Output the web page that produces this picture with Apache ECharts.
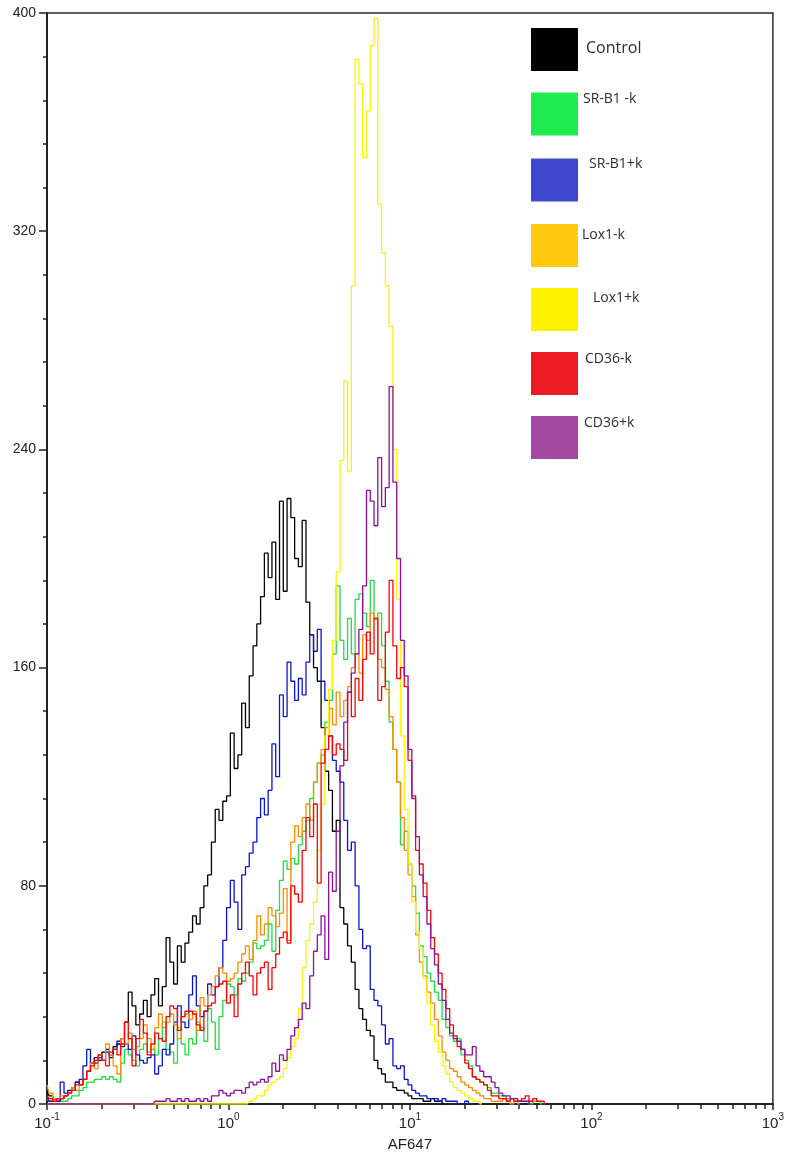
<!DOCTYPE html>
<html>
<head>
<meta charset="utf-8">
<script src="https://cdn.jsdelivr.net/npm/echarts@6/dist/echarts.min.js"></script>
<style>
  html, body { margin: 0; padding: 0; background: #ffffff; }
  #chart { width: 787px; height: 1157px; }
</style>
</head>
<body>
<div id="chart"></div>
<script>
// Sample names, in legend order
const seriesNames = ['Control', 'SR-B1 -k', 'SR-B1+k', 'Lox1-k', 'Lox1+k', 'CD36-k', 'CD36+k'];

// Histogram channels: 48 channels per decade, channel 0 sits at AF647 = 0.1
const channelsPerDecade = 48;
const firstChannelValue = 0.1;

// Event counts per channel
const control = [
  5,3,2,1,2,3,5,6,8,7,
  9,12,15,17,16,19,20,17,21,22,
  24,30,41,36,29,33,38,32,40,46,
  36,43,61,52,44,58,52,59,63,69,
  66,72,80,84,96,108,104,111,113,136,
  123,128,147,138,157,168,176,186,202,193,
  206,185,221,188,222,215,200,197,214,184,
  172,160,155,138,122,115,100,104,72,66,
  58,52,42,35,31,27,25,16,13,11,
  8,8,6,5,5,4,3,2,2,2,
  1,1,2,1,1,0
];
const srb1Minus = [
  2,1,1,1,1,1,2,3,3,5,
  6,8,8,9,9,10,9,10,9,8,
  15,20,18,16,14,20,22,19,20,18,
  24,30,20,19,15,28,22,18,24,22,
  30,28,23,35,30,20,32,38,44,43,
  40,46,45,48,52,59,57,58,60,66,
  56,71,82,89,86,90,88,95,100,104,
  112,118,125,128,140,148,165,190,170,163,
  178,165,185,187,180,175,192,178,180,168,
  155,140,130,118,95,100,88,80,70,58,
  54,48,45,41,38,31,28,25,23,24,
  18,16,14,10,9,8,7,6,4,4,
  3,3,2,2,1,1,1,1,0,1,
  1,0
];
const srb1Plus = [
  3,1,2,1,8,4,4,5,8,9,
  14,20,15,15,17,16,19,18,20,23,
  21,22,20,25,18,16,15,17,18,11,
  14,20,18,22,30,36,30,28,40,47,
  36,32,34,44,40,43,50,60,72,82,
  74,64,84,87,92,96,105,112,106,115,
  132,120,150,142,162,155,148,156,150,162,
  172,166,174,155,148,135,126,122,118,104,
  93,96,80,64,57,58,42,38,36,29,
  22,24,14,13,14,9,7,5,4,3,
  3,2,2,2,1,2,1,1,1,0,
  0,1,0
];
const lox1Minus = [
  7,4,2,2,3,3,4,6,5,7,
  9,12,15,13,18,16,22,18,14,11,
  24,22,26,20,21,24,29,24,20,28,
  33,28,30,33,29,24,32,33,31,34,
  27,39,36,40,43,47,50,48,45,46,
  48,52,55,58,53,60,69,62,66,72,
  69,65,70,79,60,96,102,98,105,110,
  104,118,125,130,138,145,139,151,142,148,
  153,160,165,158,172,170,180,178,163,160,
  152,142,130,118,105,93,84,76,62,52,
  47,41,37,31,25,19,16,13,12,10,
  8,7,6,5,4,3,2,2,1,1,
  1,2,1,0,1,0
];
const lox1Plus = [
  0,0,0,0,0,0,0,0,0,0,
  0,0,0,0,0,0,0,0,0,0,
  0,0,0,0,0,0,0,0,0,0,
  0,0,0,0,0,0,0,0,0,0,
  0,0,0,0,0,0,0,0,0,0,
  0,0,0,0,1,2,3,3,5,7,
  8,9,10,13,17,21,24,35,50,60,
  66,74,93,110,135,152,170,195,236,265,
  232,300,383,374,347,364,388,398,330,312,
  300,285,240,185,135,108,88,74,63,57,
  46,37,29,23,19,14,11,8,6,5,
  4,3,2,1,1,0
];
const cd36Minus = [
  3,2,1,2,2,3,4,5,7,7,
  9,12,14,16,18,16,14,19,20,18,
  22,30,24,14,24,31,26,18,22,26,
  24,23,32,36,35,27,32,34,34,33,
  29,27,34,36,37,43,44,45,37,40,
  32,44,48,52,47,40,48,50,52,42,
  50,55,61,63,59,80,77,74,93,105,
  98,110,81,125,130,135,128,132,130,126,
  151,142,156,148,163,173,165,178,148,153,
  173,192,168,156,160,153,126,113,93,88,
  81,71,61,55,48,42,35,29,25,21,
  20,15,13,10,9,8,7,5,3,3,
  2,2,1,2,1,1,2,3,1,2,
  1,1,0
];
const cd36Plus = [
  0,0,0,0,0,0,0,0,0,0,
  0,0,0,0,0,0,0,0,0,0,
  0,0,0,0,0,0,0,0,0,1,
  1,1,2,1,1,2,1,2,1,1,
  2,1,2,1,3,3,5,4,3,4,
  5,5,4,6,8,7,8,9,8,10,
  15,12,18,16,20,25,28,31,37,35,
  47,56,62,69,53,85,78,100,124,140,
  151,158,165,174,190,225,221,212,237,219,
  226,263,228,200,170,157,130,112,98,84,
  76,66,57,51,44,38,31,26,24,23,
  20,18,18,21,14,12,10,10,8,6,
  4,3,3,2,2,1,1,1,0
];
const seriesCounts = [control, srb1Minus, srb1Plus, lox1Minus, lox1Plus, cd36Minus, cd36Plus];

// Axis ticks
const yTickInterval = 80;
const yMax = 400;
const xMin = 0.1;
const xMax = 1000;
const decadeExponents = [-1, 0, 1, 2];
const minorTickMultipliers = [2, 3, 4, 5, 6, 7, 8, 9];

// Colours
const lineColors = ['#000000', '#22dd44', '#0a14d0', '#ff8c00', '#fff500', '#ff0000', '#8e0e9e'];
const swatchColors = ['#000000', '#1deb4f', '#3f48cc', '#ffc90e', '#fff200', '#ed1c24', '#a349a4'];
// Label placement next to each swatch: [font size, gap after swatch, lift]
const legendTextPlacement = [
  [16, 3, 1],
  [14, 0, 15],
  [14, 6, 16],
  [14, -1, 10],
  [14, 10, 11],
  [14, 2, 14],
  [14, 1, 14]
];

const axisFont = 'Liberation Sans, Arial, sans-serif';
const legendFont = 'Open Sans, Noto Sans, sans-serif';

function channelPoints(counts) {
  return counts.map((c, i) => [firstChannelValue * Math.pow(10, i / channelsPerDecade), c]);
}

const minorTickPositions = [];
decadeExponents.forEach(e => minorTickMultipliers.forEach(m => minorTickPositions.push(Math.log10(m) + e)));

// One rich-text style per legend label so each can sit at its own spot beside the swatch
const legendRich = {};
legendTextPlacement.forEach((p, i) => {
  legendRich['k' + i] = {
    fontFamily: legendFont,
    fontSize: p[0],
    color: '#2d2d2d',
    lineHeight: p[0] + 3,
    padding: [0, 0, p[2] * 2, p[1]]
  };
});

const chart = echarts.init(document.getElementById('chart'), null, { renderer: 'canvas' });

chart.setOption({
  animation: false,
  backgroundColor: '#ffffff',
  grid: {
    left: 47, right: 12, top: 13, bottom: 51,
    show: true, borderColor: '#2b2b2b', borderWidth: 1.5, backgroundColor: 'transparent'
  },
  legend: {
    orient: 'vertical',
    left: 531,
    top: 28,
    padding: 0,
    icon: 'rect',
    itemWidth: 47,
    itemHeight: 43,
    itemGap: 21,
    selectedMode: false,
    formatter: function (name) {
      return '{k' + seriesNames.indexOf(name) + '|' + name + '}';
    },
    textStyle: { rich: legendRich },
    data: seriesNames.map((name, i) => ({
      name: name,
      itemStyle: { color: swatchColors[i] }
    }))
  },
  xAxis: [
    {
      type: 'log',
      logBase: 10,
      min: xMin,
      max: xMax,
      name: 'AF647',
      nameLocation: 'middle',
      nameGap: 33,
      nameTextStyle: { fontFamily: axisFont, fontSize: 15, color: '#222222' },
      axisLine: { show: true, onZero: false, lineStyle: { color: '#222222', width: 2 } },
      axisTick: { show: true, inside: false, length: 6, lineStyle: { color: '#222222', width: 1.5 } },
      splitLine: { show: false },
      axisLabel: {
        margin: 8,
        formatter: function (v) {
          const e = Math.round(Math.log10(v));
          return '{b|10}{s|' + e + '}';
        },
        rich: {
          b: { fontFamily: axisFont, fontSize: 15, color: '#222222', lineHeight: 24 },
          s: { fontFamily: axisFont, fontSize: 10, color: '#222222', verticalAlign: 'top', lineHeight: 12 }
        }
      }
    },
    {
      type: 'value',
      min: -1,
      max: 3,
      position: 'bottom',
      axisLine: { show: false, onZero: false },
      axisLabel: { show: false },
      splitLine: { show: false },
      axisTick: {
        show: true, inside: false, length: 5,
        customValues: minorTickPositions,
        lineStyle: { color: '#222222', width: 1.5 }
      }
    }
  ],
  yAxis: {
    type: 'value',
    min: 0,
    max: yMax,
    interval: yTickInterval,
    axisLine: { show: true, onZero: false, lineStyle: { color: '#222222', width: 2 } },
    axisTick: { show: true, inside: false, length: 8, lineStyle: { color: '#222222', width: 1.5 } },
    minorTick: { show: true, splitNumber: 5, length: 4, lineStyle: { color: '#222222', width: 1.5 } },
    splitLine: { show: false },
    minorSplitLine: { show: false },
    axisLabel: { margin: 11, fontFamily: axisFont, fontSize: 14, color: '#222222' }
  },
  series: seriesNames.map((name, i) => ({
    name: name,
    type: 'line',
    xAxisIndex: 0,
    yAxisIndex: 0,
    step: 'middle',
    showSymbol: false,
    symbol: 'none',
    itemStyle: { color: lineColors[i] },
    lineStyle: { color: lineColors[i], width: 1.3 },
    emphasis: { disabled: true },
    data: channelPoints(seriesCounts[i])
  }))
});
</script>
</body>
</html>
